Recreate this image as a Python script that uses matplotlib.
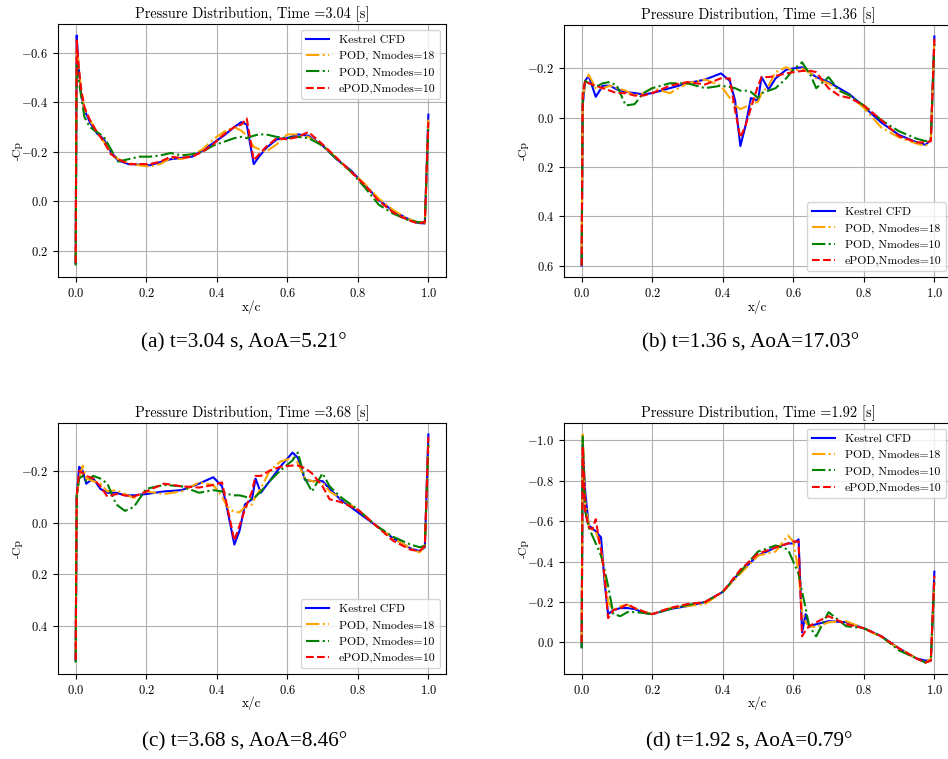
import numpy as np
import matplotlib
matplotlib.use("Agg")
import matplotlib.pyplot as plt

plt.rcParams["font.family"] = ["cmr10", "DejaVu Serif"]
plt.rcParams["mathtext.fontset"] = "cm"
plt.rcParams["axes.formatter.use_mathtext"] = True
plt.rcParams["axes.unicode_minus"] = True
plt.rcParams["font.size"] = 9
plt.rcParams["xtick.labelsize"] = 9
plt.rcParams["ytick.labelsize"] = 9

series_labels = ["Kestrel CFD", "POD, Nmodes=18", "POD, Nmodes=10", "ePOD,Nmodes=10"]
series_colors = ["blue", "orange", "green", "red"]
series_styles = ["-", "-.", "-.", "--"]

# ---- (a) t = 3.04 s ----
xa = [0.0, 0.003, 0.008, 0.015, 0.025, 0.04, 0.06, 0.08, 0.1, 0.12,
      0.15, 0.18, 0.21, 0.24, 0.27, 0.3, 0.33, 0.36, 0.39, 0.42,
      0.45, 0.47, 0.485, 0.505, 0.52, 0.54, 0.57, 0.6, 0.63, 0.66,
      0.7, 0.74, 0.78, 0.82, 0.86, 0.9, 0.94, 0.97, 0.99, 1.0]
a_kestrel = [0.25, -0.67, -0.55, -0.44, -0.37, -0.32, -0.275, -0.25, -0.2, -0.165,
             -0.15, -0.148, -0.145, -0.158, -0.17, -0.175, -0.18, -0.205, -0.235, -0.265,
             -0.30, -0.32, -0.31, -0.15, -0.18, -0.215, -0.25, -0.255, -0.27, -0.265,
             -0.225, -0.17, -0.125, -0.065, -0.005, 0.04, 0.07, 0.088, 0.09, -0.35]
a_pod18 = [0.24, -0.62, -0.56, -0.45, -0.37, -0.33, -0.28, -0.24, -0.2, -0.17,
           -0.155, -0.145, -0.14, -0.15, -0.175, -0.17, -0.185, -0.21, -0.25, -0.28,
           -0.3, -0.285, -0.265, -0.22, -0.21, -0.2, -0.23, -0.27, -0.27, -0.26,
           -0.225, -0.175, -0.12, -0.07, -0.01, 0.035, 0.07, 0.085, 0.09, -0.33]
a_pod10 = [0.26, -0.55, -0.5, -0.43, -0.34, -0.3, -0.28, -0.26, -0.21, -0.16,
           -0.17, -0.18, -0.18, -0.185, -0.195, -0.185, -0.19, -0.2, -0.225, -0.24,
           -0.255, -0.26, -0.255, -0.265, -0.27, -0.27, -0.26, -0.255, -0.26, -0.255,
           -0.225, -0.17, -0.12, -0.055, 0.015, 0.05, 0.075, 0.085, 0.085, -0.3]
a_epod = [0.25, -0.65, -0.55, -0.46, -0.38, -0.33, -0.28, -0.24, -0.19, -0.17,
          -0.15, -0.15, -0.15, -0.16, -0.18, -0.175, -0.18, -0.2, -0.23, -0.27,
          -0.3, -0.31, -0.335, -0.165, -0.19, -0.22, -0.255, -0.25, -0.26, -0.28,
          -0.23, -0.175, -0.12, -0.065, 0.0, 0.045, 0.075, 0.09, 0.085, -0.32]

# ---- (b) t = 1.36 s ----
xb = [0.0, 0.003, 0.01, 0.02, 0.04, 0.06, 0.08, 0.1, 0.125, 0.15,
      0.175, 0.2, 0.25, 0.3, 0.35, 0.395, 0.42, 0.435, 0.45, 0.465,
      0.48, 0.5, 0.51, 0.53, 0.55, 0.58, 0.6, 0.625, 0.65, 0.665,
      0.7, 0.73, 0.76, 0.8, 0.85, 0.9, 0.95, 0.975, 0.99, 1.0]
b_kestrel = [0.6, -0.05, -0.15, -0.17, -0.085, -0.13, -0.13, -0.115, -0.105, -0.1,
             -0.095, -0.1, -0.12, -0.14, -0.155, -0.18, -0.15, -0.07, 0.115, 0.03,
             -0.08, -0.07, -0.165, -0.115, -0.16, -0.195, -0.2, -0.205, -0.18, -0.165,
             -0.145, -0.12, -0.095, -0.045, 0.02, 0.07, 0.1, 0.11, 0.09, -0.33]
b_pod18 = [0.55, -0.08, -0.14, -0.175, -0.12, -0.12, -0.13, -0.12, -0.11, -0.09,
           -0.1, -0.12, -0.1, -0.14, -0.155, -0.13, -0.08, -0.05, -0.035, -0.045,
           -0.055, -0.065, -0.1, -0.13, -0.185, -0.205, -0.19, -0.2, -0.18, -0.16,
           -0.14, -0.11, -0.09, -0.04, 0.04, 0.08, 0.105, 0.115, 0.09, -0.32]
b_pod10 = [0.6, -0.08, -0.15, -0.14, -0.125, -0.14, -0.145, -0.13, -0.05, -0.055,
           -0.1, -0.12, -0.14, -0.14, -0.12, -0.13, -0.125, -0.12, -0.11, -0.11,
           -0.105, -0.08, -0.1, -0.11, -0.12, -0.16, -0.195, -0.225, -0.17, -0.12,
           -0.165, -0.11, -0.09, -0.05, 0.01, 0.055, 0.085, 0.095, 0.085, -0.3]
b_epod = [0.6, -0.1, -0.15, -0.14, -0.13, -0.12, -0.11, -0.1, -0.1, -0.09,
          -0.09, -0.1, -0.13, -0.145, -0.135, -0.16, -0.16, -0.03, 0.08, 0.03,
          -0.04, -0.13, -0.165, -0.165, -0.17, -0.18, -0.185, -0.19, -0.19, -0.185,
          -0.12, -0.09, -0.08, -0.05, 0.01, 0.075, 0.1, 0.1, 0.095, -0.32]

# ---- (c) t = 3.68 s ----
xc = [0.0, 0.003, 0.01, 0.02, 0.03, 0.05, 0.07, 0.09, 0.115, 0.14,
      0.165, 0.2, 0.25, 0.3, 0.35, 0.39, 0.415, 0.43, 0.45, 0.465,
      0.48, 0.5, 0.51, 0.525, 0.55, 0.58, 0.615, 0.63, 0.65, 0.67,
      0.7, 0.72, 0.75, 0.8, 0.85, 0.9, 0.95, 0.975, 0.99, 1.0]
c_kestrel = [0.53, -0.1, -0.215, -0.2, -0.15, -0.17, -0.13, -0.115, -0.115, -0.105,
             -0.105, -0.11, -0.12, -0.125, -0.15, -0.175, -0.14, -0.05, 0.085, 0.03,
             -0.07, -0.09, -0.17, -0.115, -0.16, -0.215, -0.27, -0.25, -0.165, -0.16,
             -0.16, -0.13, -0.09, -0.04, 0.01, 0.06, 0.1, 0.11, 0.095, -0.34]
c_pod18 = [0.5, -0.1, -0.17, -0.22, -0.17, -0.16, -0.15, -0.12, -0.125, -0.11,
           -0.095, -0.12, -0.11, -0.12, -0.155, -0.145, -0.1, -0.06, -0.04, -0.04,
           -0.06, -0.07, -0.1, -0.13, -0.2, -0.235, -0.25, -0.23, -0.17, -0.16,
           -0.155, -0.12, -0.095, -0.05, 0.01, 0.06, 0.1, 0.115, 0.09, -0.3]
c_pod10 = [0.54, -0.1, -0.17, -0.18, -0.16, -0.18, -0.17, -0.15, -0.07, -0.045,
           -0.06, -0.13, -0.145, -0.14, -0.115, -0.125, -0.12, -0.11, -0.105, -0.105,
           -0.1, -0.09, -0.1, -0.12, -0.16, -0.2, -0.24, -0.27, -0.17, -0.12,
           -0.19, -0.14, -0.1, -0.05, 0.01, 0.055, 0.085, 0.095, 0.09, -0.3]
c_epod = [0.53, -0.1, -0.2, -0.19, -0.18, -0.17, -0.14, -0.1, -0.11, -0.105,
          -0.1, -0.12, -0.15, -0.14, -0.135, -0.145, -0.155, -0.06, 0.07, 0.01,
          -0.05, -0.12, -0.18, -0.18, -0.2, -0.215, -0.22, -0.22, -0.21, -0.19,
          -0.14, -0.09, -0.08, -0.05, 0.01, 0.07, 0.105, 0.11, 0.09, -0.33]

# ---- (d) t = 1.92 s ----
xd = [0.0, 0.003, 0.01, 0.02, 0.03, 0.04, 0.05, 0.055, 0.065, 0.075,
      0.09, 0.11, 0.13, 0.15, 0.18, 0.2, 0.25, 0.3, 0.35, 0.4,
      0.45, 0.5, 0.55, 0.585, 0.6, 0.615, 0.625, 0.635, 0.645, 0.665,
      0.7, 0.75, 0.8, 0.85, 0.9, 0.95, 0.975, 0.99, 1.0]
d_kestrel = [0.02, -0.98, -0.75, -0.58, -0.565, -0.55, -0.53, -0.52, -0.3, -0.14,
             -0.16, -0.17, -0.17, -0.165, -0.145, -0.14, -0.165, -0.18, -0.2, -0.25,
             -0.35, -0.43, -0.47, -0.49, -0.49, -0.51, -0.05, -0.14, -0.08, -0.09,
             -0.105, -0.1, -0.07, -0.03, 0.03, 0.08, 0.09, 0.09, -0.35]
d_pod18 = [0.0, -1.03, -0.7, -0.58, -0.56, -0.55, -0.5, -0.46, -0.33, -0.2,
           -0.16, -0.18, -0.185, -0.17, -0.15, -0.14, -0.17, -0.18, -0.19, -0.25,
           -0.34, -0.43, -0.45, -0.53, -0.5, -0.35, -0.15, -0.1, -0.08, -0.075,
           -0.1, -0.105, -0.07, -0.025, 0.03, 0.08, 0.1, 0.08, -0.32]
d_pod10 = [0.03, -1.02, -0.65, -0.57, -0.53, -0.49, -0.45, -0.43, -0.36, -0.28,
           -0.14, -0.13, -0.15, -0.15, -0.145, -0.14, -0.165, -0.185, -0.2, -0.25,
           -0.35, -0.45, -0.48, -0.46, -0.4, -0.34, -0.25, -0.17, -0.08, -0.03,
           -0.15, -0.08, -0.07, -0.03, 0.04, 0.08, 0.1, 0.09, -0.3]
d_epod = [0.0, -0.97, -0.65, -0.57, -0.56, -0.61, -0.5, -0.46, -0.33, -0.12,
          -0.16, -0.17, -0.19, -0.17, -0.15, -0.14, -0.17, -0.19, -0.2, -0.25,
          -0.36, -0.44, -0.47, -0.49, -0.5, -0.5, -0.03, -0.06, -0.08, -0.1,
          -0.13, -0.09, -0.07, -0.03, 0.03, 0.08, 0.1, 0.09, -0.33]

times = ["3.04", "1.36", "3.68", "1.92"]
captions = ["(a) t=3.04 s, AoA=5.21\u00b0", "(b) t=1.36 s, AoA=17.03\u00b0",
            "(c) t=3.68 s, AoA=8.46\u00b0", "(d) t=1.92 s, AoA=0.79\u00b0"]

panels = [
    (xa, [a_kestrel, a_pod18, a_pod10, a_epod], "upper right"),
    (xb, [b_kestrel, b_pod18, b_pod10, b_epod], "lower right"),
    (xc, [c_kestrel, c_pod18, c_pod10, c_epod], "lower right"),
    (xd, [d_kestrel, d_pod18, d_pod10, d_epod], "upper right"),
]

W, H = 948, 759
fig = plt.figure(figsize=(W / 100, H / 100), dpi=100)

# axes boxes in pixels: left, top, right, bottom
boxes = [(58, 24, 446, 277), (564, 25, 952, 277),
         (58, 423, 446, 674), (564, 423, 952, 674)]
caption_pos = [(244, 343), (751, 343), (245, 742), (749, 742)]

for i, (x, ys, loc) in enumerate(panels):
    l, t, r, b = boxes[i]
    w_px, h_px = r - l, b - t
    ax = fig.add_axes([l / W, 1 - b / H, w_px / W, h_px / H])
    for y, lab, col, ls in zip(ys, series_labels, series_colors, series_styles):
        ax.plot(np.array(x), np.array(y), color=col, linestyle=ls, linewidth=1.5, label=lab)
    ax.invert_yaxis()
    ax.grid(True)
    ax.set_xlabel("x/c", fontsize=9.5)
    ax.set_ylabel("-Cp", fontsize=8.5)
    ax.xaxis.set_label_coords(0.5, -23 / h_px)
    ax.yaxis.set_label_coords(-35 / w_px, 0.5)
    ax.set_title(f"Pressure Distribution, Time ={times[i]} [s]", fontsize=10.3, pad=4)
    ax.legend(loc=loc, fontsize=8.5)
    cx, cy = caption_pos[i]
    fig.text(cx / W, 1 - cy / H, captions[i], ha="center", va="center",
             fontsize=15.3, family="Liberation Serif")

fig.savefig("out.png", dpi=100)
